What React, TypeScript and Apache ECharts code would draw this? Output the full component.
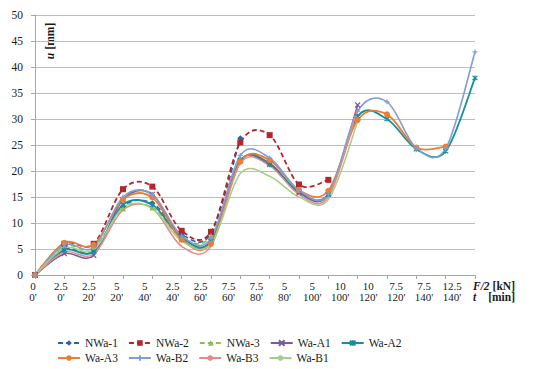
import React, { useEffect, useRef } from 'react';
import * as echarts from 'echarts';

const loads = ['0', '2.5', '2.5', '5', '5', '2.5', '2.5', '7.5', '7.5', '5', '5', '10', '10', '7.5', '7.5', '12.5'];
const times = ["0'", "0'", "20'", "20'", "40'", "40'", "60'", "60'", "80'", "80'", "100'", "100'", "120'", "120'", "140'", "140'"];

const NWa1 = [0, 5.0, 4.7, 13.2, 13.8, 7.8, 8.0, 26.3];
const NWa2 = [0, 6.0, 6.0, 16.5, 17.0, 8.5, 8.3, 25.5, 26.9, 17.4, 18.3];
const NWa3 = [0, 5.5, 5.2, 12.8, 13.0, 7.2, 7.5, 22.5];
const WaA1 = [0, 4.1, 3.8, 14.5, 15.5, 6.8, 6.5, 22.0, 21.5, 15.8, 15.5, 32.7];
const WaA2 = [0, 4.8, 4.5, 13.5, 13.5, 7.2, 6.5, 22.0, 21.2, 16.0, 15.5, 30.5, 30.0, 24.2, 23.8, 37.9];
const WaA3 = [0, 6.2, 5.8, 14.5, 14.9, 6.8, 6.0, 21.8, 22.1, 16.3, 16.2, 29.8, 30.9, 24.5, 24.7];
const WaB2 = [0, 5.8, 5.3, 15.0, 15.5, 7.5, 7.0, 23.0, 22.5, 16.3, 15.5, 31.5, 33.3, 24.4, 24.3, 42.9];
const WaB3 = [0, 4.4, 4.0, 12.5, 12.8, 5.5, 5.5, 21.5, 21.0, 15.5, 15.0, 32.0];
const WaB1 = [0, 5.2, 4.8, 13.0, 12.8, 6.5, 6.0, 19.5, 19.0, 15.0, 14.5, 29.5];

const row1 = ['NWa-1', 'NWa-2', 'NWa-3', 'Wa-A1', 'Wa-A2'];
const row2 = ['Wa-A3', 'Wa-B2', 'Wa-B3', 'Wa-B1'];

const FONT = 'Liberation Serif';
const TXT = '#1a1a1a';

const SYM_X = 'path://M0,0L10,10M0,10L10,0';
const SYM_STAR = 'path://M0,0L10,10M0,10L10,0M5,-1L5,11';
const SYM_PLUS = 'path://M5,0L5,10M0,5L10,5';

type Def = { name: string; data: number[]; color: string; dashed: boolean; symbol: string; size: number; stroke?: boolean; width: number };

const defs: Def[] = [
  { name: 'NWa-1', data: NWa1, color: '#2a63ad', dashed: true, symbol: 'diamond', size: 6, width: 1.6 },
  { name: 'NWa-2', data: NWa2, color: '#b3262b', dashed: true, symbol: 'rect', size: 6, width: 1.8 },
  { name: 'NWa-3', data: NWa3, color: '#8fbd52', dashed: true, symbol: 'triangle', size: 6, width: 1.6 },
  { name: 'Wa-A1', data: WaA1, color: '#7a5a9c', dashed: false, symbol: SYM_X, size: 5, stroke: true, width: 1.6 },
  { name: 'Wa-A2', data: WaA2, color: '#138f9e', dashed: false, symbol: SYM_STAR, size: 5, stroke: true, width: 1.8 },
  { name: 'Wa-A3', data: WaA3, color: '#ed7d31', dashed: false, symbol: 'circle', size: 6, width: 1.8 },
  { name: 'Wa-B2', data: WaB2, color: '#7f9fd4', dashed: false, symbol: SYM_PLUS, size: 5, stroke: true, width: 1.6 },
  { name: 'Wa-B3', data: WaB3, color: '#e58a8c', dashed: false, symbol: 'none', size: 0, width: 1.5 },
  { name: 'Wa-B1', data: WaB1, color: '#a5cf85', dashed: false, symbol: 'none', size: 0, width: 1.5 },
];

function curvePath(pts: number[][]): string {
  if (pts.length === 0) return '';
  let d = `M${pts[0][0]},${pts[0][1]}`;
  for (let i = 0; i < pts.length - 1; i++) {
    const p0 = pts[i - 1] || pts[i];
    const p1 = pts[i];
    const p2 = pts[i + 1];
    const p3 = pts[i + 2] || pts[i + 1];
    const c1x = p1[0] + (p2[0] - p0[0]) / 6;
    const c1y = p1[1] + (p2[1] - p0[1]) / 6;
    const c2x = p2[0] - (p3[0] - p1[0]) / 6;
    const c2y = p2[1] - (p3[1] - p1[1]) / 6;
    d += ` C${c1x},${c1y} ${c2x},${c2y} ${p2[0]},${p2[1]}`;
  }
  return d;
}

export default function App() {
  const ref = useRef<HTMLDivElement>(null);
  useEffect(() => {
    const chart = echarts.init(ref.current!, null, { renderer: 'svg' });
    const categories = loads.map((l, i) => `${l}\n${times[i]}`);
    const legendCommon = {
      orient: 'horizontal',
      itemWidth: 22,
      itemHeight: 7,
      itemGap: 10,
      lineStyle: { opacity: 1 },
      textStyle: { fontFamily: FONT, fontSize: 11.5, color: TXT, width: 50 },
    };
    const curveSeries = defs.map((d) => ({
      name: '_curve_' + d.name,
      type: 'custom',
      coordinateSystem: 'cartesian2d',
      xAxisIndex: 0,
      yAxisIndex: 0,
      silent: true,
      z: 1,
      data: d.data.map((v, i) => [i, v]),
      encode: { x: 0, y: 1 },
      renderItem: (params: any, api: any) => {
        if (params.dataIndex !== 0) return null;
        const pts = d.data.map((v, i) => api.coord([i, v]));
        return {
          type: 'path',
          shape: { pathData: curvePath(pts) },
          style: {
            fill: 'none',
            stroke: d.color,
            lineWidth: d.width,
            lineDash: d.dashed ? [5, 3] : null,
          },
        };
      },
    }));
    const markerSeries = defs.map((d) => ({
      name: d.name,
      type: 'line',
      xAxisIndex: 0,
      yAxisIndex: 0,
      z: 3,
      data: d.data,
      smooth: false,
      symbol: d.symbol,
      symbolSize: d.size,
      showSymbol: d.symbol !== 'none',
      lineStyle: { color: d.color, width: d.width, type: d.dashed ? [5, 3] : 'solid', opacity: 0 },
      itemStyle: d.stroke
        ? { color: d.color, borderColor: d.color, borderWidth: 1.2 }
        : { color: d.color, borderColor: d.color, borderWidth: 0 },
      emphasis: { disabled: true },
    }));
    const option: any = {
      animation: false,
      backgroundColor: '#ffffff',
      textStyle: { fontFamily: FONT },
      grid: [
        { left: 35, right: 75, top: 15, bottom: 94, containLabel: false },
        { left: 33, right: 98, top: 275, height: 1, containLabel: false },
      ],
      xAxis: [
        {
          type: 'category',
          gridIndex: 0,
          data: categories,
          boundaryGap: false,
          axisLine: { lineStyle: { color: '#a6a6a6', width: 1 } },
          axisTick: { show: true, length: 4, alignWithLabel: true, lineStyle: { color: '#a6a6a6' } },
          axisLabel: { show: false },
          splitLine: { show: false },
        },
        {
          type: 'category',
          gridIndex: 1,
          data: categories,
          boundaryGap: false,
          position: 'bottom',
          axisLine: { show: false },
          axisTick: { show: false },
          axisLabel: { interval: 0, margin: 4, fontSize: 11, lineHeight: 11, color: TXT, fontFamily: FONT },
          name: '{i|F/2} {b|[kN]}\n{i|t}    {b|[min]}',
          nameLocation: 'end',
          nameGap: 21,
          nameTextStyle: {
            align: 'left',
            verticalAlign: 'top',
            padding: [4, 0, 0, 0],
            lineHeight: 11,
            rich: {
              i: { fontFamily: FONT, fontSize: 11.5, fontStyle: 'italic', fontWeight: 'bold', color: TXT, lineHeight: 11 },
              b: { fontFamily: FONT, fontSize: 11.5, fontWeight: 'bold', color: TXT, lineHeight: 11 },
            },
          },
        },
      ],
      yAxis: [
        {
          type: 'value',
          gridIndex: 0,
          min: 0,
          max: 50,
          interval: 5,
          axisLine: { show: true, lineStyle: { color: '#a6a6a6', width: 1 } },
          axisTick: { show: true, length: 4, lineStyle: { color: '#a6a6a6' } },
          axisLabel: { margin: 12, fontSize: 11.5, color: TXT, fontFamily: FONT },
          splitLine: { lineStyle: { color: '#bdbdbd', width: 1 } },
        },
        { type: 'value', gridIndex: 1, show: false },
      ],
      legend: [
        { ...legendCommon, data: row1, left: 52, top: 332 },
        { ...legendCommon, data: row2, left: 52, top: 347 },
      ],
      graphic: [
        {
          type: 'text',
          x: 50,
          y: 41,
          rotation: Math.PI / 2,
          style: {
            text: '{i|u} {b|[mm]}',
            align: 'center',
            verticalAlign: 'middle',
            rich: {
              i: { fontFamily: FONT, fontSize: 11.5, fontStyle: 'italic', fontWeight: 'bold', fill: TXT },
              b: { fontFamily: FONT, fontSize: 11.5, fontWeight: 'bold', fill: TXT },
            },
          },
        },
      ],
      series: [...curveSeries, ...markerSeries],
    };
    chart.setOption(option);
    return () => chart.dispose();
  }, []);
  return <div ref={ref} style={{ position: 'fixed', left: 0, top: 0, width: 550, height: 369 }} />;
}
